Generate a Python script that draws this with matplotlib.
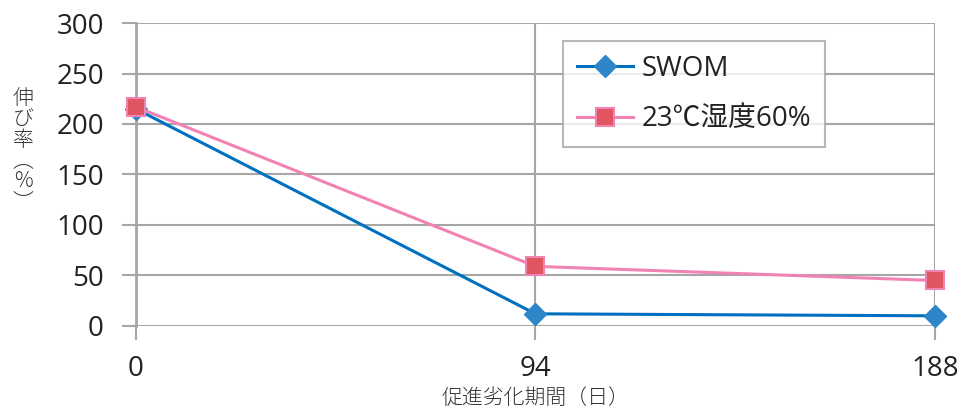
import matplotlib
matplotlib.use('Agg')
import matplotlib.pyplot as plt

plt.rcParams['font.family'] = ['Open Sans', 'Noto Sans CJK JP', 'DejaVu Sans']

# データ
days = [0, 94, 188]
swom = [215, 12, 10]
humid = [217, 59, 45]
series_names = ['SWOM', '23℃湿度60%']
y_ticks = [0, 50, 100, 150, 200, 250, 300]
y_label = '伸び率︵%︶'
x_label = '促進劣化期間（日）'

grid_color = '#a6a6a6'
W, H = 963, 411

fig = plt.figure(figsize=(W / 100, H / 100), dpi=100)
ax = fig.add_axes([0.141, 0.207, 0.830, 0.737])

ax.plot(days, swom, color='#0070c0', lw=2.2, marker='D', ms=11,
        mfc='#2e86c8', mec='#2e86c8', clip_on=False, zorder=4,
        label=series_names[0])
ax.plot(days, humid, color='#f183b4', lw=2.2, marker='s', ms=13,
        mfc='#e05560', mec='#f183b4', mew=1.5, clip_on=False, zorder=5,
        label=series_names[1])

ax.set_xlim(0, 188)
ax.set_ylim(0, 300)
ax.set_xticks(days)
ax.set_yticks(y_ticks)

# グリッド
ax.grid(True, color=grid_color, lw=1.5)
ax.set_axisbelow(True)
for s in ['left', 'bottom', 'right', 'top']:
    ax.spines[s].set_visible(False)
ax.spines['left'].set_visible(True)
ax.spines['left'].set_color(grid_color)
ax.spines['left'].set_linewidth(2)

ax.tick_params(axis='both', length=10, width=1.5, color=grid_color,
               labelsize=20, labelcolor='#222222')
ax.tick_params(axis='x', pad=11)
ax.tick_params(axis='y', pad=13)

# 縦書きの軸ラベル
fig.text(23 / W, 1 - 150 / H, '\n'.join(y_label), ha='center', va='center',
         fontsize=15, linespacing=0.94, color='#333333',
         family=['Noto Sans CJK JP', 'DejaVu Sans'], fontweight='light')

fig.text(0.556, 0.032, x_label, ha='center', va='center',
         fontsize=15, fontweight='light', color='#333333',
         family=['Noto Sans CJK JP', 'DejaVu Sans'])

leg = ax.legend(loc='upper left', bbox_to_anchor=(0.535, 0.94), fontsize=20,
                frameon=True, fancybox=False, edgecolor=grid_color,
                handlelength=2.0, handletextpad=0.3, borderpad=0.5,
                labelspacing=0.8, borderaxespad=0)
leg.get_frame().set_linewidth(1.5)
for t in leg.get_texts():
    t.set_color('#222222')

plt.savefig('out.png', dpi=100)
plt.close()
